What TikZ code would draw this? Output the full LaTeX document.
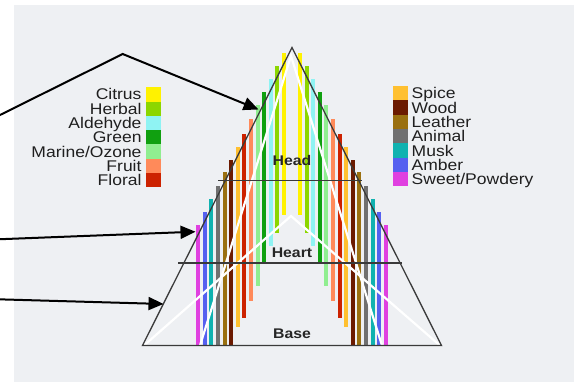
\documentclass[tikz,border=0pt]{standalone}
\usepackage{fontspec}
\setmainfont{Liberation Sans}
\newfontfamily\lgfont[FakeStretch=1.13]{Liberation Sans}
\usetikzlibrary{arrows.meta}
\definecolor{bgc}{HTML}{EEF0F3}
\definecolor{cCitrus}{HTML}{FFF200}
\definecolor{cHerbal}{HTML}{8CD600}
\definecolor{cAldehyde}{HTML}{8FF3F3}
\definecolor{cGreen}{HTML}{10A010}
\definecolor{cMarine}{HTML}{90EE90}
\definecolor{cFruit}{HTML}{FF8A5A}
\definecolor{cFloral}{HTML}{CC2200}
\definecolor{cSpice}{HTML}{FFC030}
\definecolor{cWood}{HTML}{6B1A00}
\definecolor{cLeather}{HTML}{9A7010}
\definecolor{cAnimal}{HTML}{707070}
\definecolor{cMusk}{HTML}{10B2B0}
\definecolor{cAmber}{HTML}{5560F0}
\definecolor{cSweet}{HTML}{E040E0}
\definecolor{edgec}{HTML}{3A3A3A}
\tikzset{
  legtext/.style={font=\lgfont\fontsize{15.5}{16}\selectfont, text=black!88, inner sep=0pt},
  tierlabel/.style={font=\lgfont\fontsize{14}{15}\selectfont\bfseries, text=black!85, inner sep=0pt},
  outline/.style={draw=edgec, line width=1.3pt},
  whiteline/.style={draw=white, line width=2.2pt},
  pointer/.style={draw=black, line width=2pt, -{Triangle[length=15pt,width=13pt]}},
}
\begin{document}
\begin{tikzpicture}[x=1pt,y=-1pt]
\useasboundingbox (0,0) rectangle (574,382);
\fill[bgc] (14,5) rectangle (574,382);
% bars
\foreach \d/\t/\b/\c in {8/53/215/cCitrus, 14.6/66/233/cHerbal, 21.2/79/246/cAldehyde,
  27.8/92/262/cGreen, 34.4/105/286/cMarine, 41/119/301/cFruit, 47.6/134/318/cFloral,
  54.2/147/327/cSpice, 60.8/160/345.5/cWood, 67.4/172/345.5/cLeather, 74/186/345.5/cAnimal,
  80.6/199/345.5/cMusk, 87.2/212/345.5/cAmber, 93.8/225/345.5/cSweet}{
  \fill[\c] ({292-\d-2},\t) rectangle ({292-\d+2},\b);
  \fill[\c] ({292+\d-2},\t) rectangle ({292+\d+2},\b);
}
% white lines
\coordinate (wapex) at (291,56);
\coordinate (wl) at (200,345.5);
\coordinate (wr) at (382,345.5);
\coordinate (iapex) at (291,216);
\coordinate (il) at (144,345.5);
\coordinate (ir) at (440,345.5);
\draw[whiteline] (wl) -- (wapex) -- (wr);
\draw[whiteline] (il) -- (iapex) -- (ir);
% triangle
\coordinate (apex) at (292,47.5);
\coordinate (bl) at (142.5,345.5);
\coordinate (br) at (441.5,345.5);
\draw[outline, line join=miter] (bl) -- (apex) -- (br) -- cycle;
\coordinate (hl) at (218,180.7);
\coordinate (hr) at (362,180.7);
\coordinate (tl) at (178,263);
\coordinate (tr) at (402,263);
\draw[outline] (hl) -- (hr);
\draw[outline] (tl) -- (tr);
% tier labels
\node[tierlabel] (head) at (292,160) {Head};
\node[tierlabel] (heart) at (292,252.5) {Heart};
\node[tierlabel] (base) at (292,333.5) {Base};
% left legend
\foreach \n/\c [count=\k from 0] in {Citrus/cCitrus, Herbal/cHerbal, Aldehyde/cAldehyde,
  Green/cGreen, Marine\slash Ozone/cMarine, Fruit/cFruit, Floral/cFloral}{
  \fill[\c] (145.5,{87.3+14.3*\k}) rectangle (160.5,{101.6+14.3*\k});
  \node[legtext, anchor=base east] (L\k) at (141.7,{100+14.3*\k}) {\n};
}
% right legend
\foreach \n/\c [count=\k from 0] in {Spice/cSpice, Wood/cWood, Leather/cLeather,
  Animal/cAnimal, Musk/cMusk, Amber/cAmber, Sweet\slash Powdery/cSweet}{
  \fill[\c] (393,{86.2+14.3*\k}) rectangle (407.5,{100.5+14.3*\k});
  \node[legtext, anchor=base west] (R\k) at (411.5,{98.9+14.3*\k}) {\n};
}
% pointers
\coordinate (s1) at (-2,116);
\coordinate (k1) at (122.7,54);
\coordinate (e1) at (258.5,109.5);
\coordinate (s2) at (-2,239.3);
\coordinate (e2) at (195.5,231.7);
\coordinate (s3) at (-2,299.3);
\coordinate (e3) at (163.5,304);
\draw[pointer, line join=miter] (s1) -- (k1) -- (e1);
\draw[pointer] (s2) -- (e2);
\draw[pointer] (s3) -- (e3);
\end{tikzpicture}
\end{document}
